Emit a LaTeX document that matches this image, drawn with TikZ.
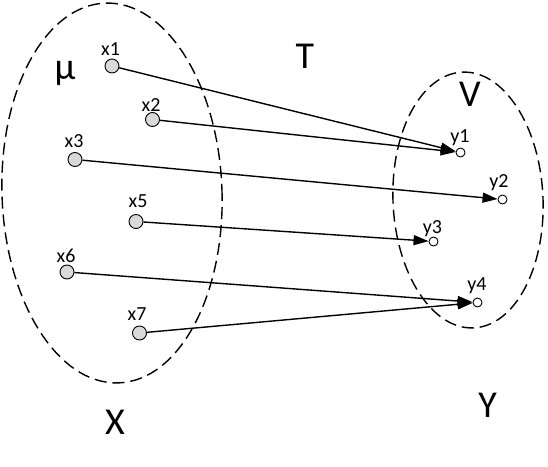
\documentclass[tikz,border=0pt]{standalone}
\usepackage{fontspec}
\setmainfont{Carlito}
\usetikzlibrary{arrows.meta}
\begin{document}
\begin{tikzpicture}[x=1pt,y=-1pt,
  xdot/.style={circle,draw,fill=gray!30,line width=0.9pt,minimum size=14pt,inner sep=0pt},
  ydot/.style={circle,draw,fill=white,line width=0.9pt,minimum size=9pt,inner sep=0pt},
  lbl/.style={font=\fontsize{20}{20}\selectfont,anchor=base,inner sep=0pt},
  big/.style={font=\fontsize{38}{38}\selectfont,anchor=base,inner sep=0pt},
  set/.style={dash pattern=on 12pt off 6pt,line width=1.4pt},
  map/.style={line width=1.4pt,-{Triangle[length=15pt,width=10pt]}}]
\useasboundingbox (0,0) rectangle (548,466);
\draw[set,rotate around={2:(112,193)}] (112,193) ellipse [x radius=110, y radius=190];
\draw[set,rotate around={2.5:(468,200)}] (468,200) ellipse [x radius=75, y radius=128];
\node[xdot] (x1) at (112,66) {};
\node[xdot] (x2) at (152.5,119.5) {};
\node[xdot] (x3) at (75,159.5) {};
\node[xdot] (x5) at (136,221.5) {};
\node[xdot] (x6) at (67,272) {};
\node[xdot] (x7) at (139.5,333) {};
\node[ydot] (y1) at (460.5,152.5) {};
\node[ydot] (y2) at (502.5,199.5) {};
\node[ydot] (y3) at (433.5,241.5) {};
\node[ydot] (y4) at (477.5,302.5) {};
\node[lbl] (lx1) at (110.5,55.5) {x1};
\node[lbl] (lx2) at (151,111) {x2};
\node[lbl] (lx3) at (74,147) {x3};
\node[lbl] (lx5) at (138,207) {x5};
\node[lbl] (lx6) at (66,262) {x6};
\node[lbl] (lx7) at (137,320) {x7};
\node[lbl] (ly1) at (460,142.5) {y1};
\node[lbl] (ly2) at (499,187) {y2};
\node[lbl] (ly3) at (432.5,233.5) {y3};
\node[lbl] (ly4) at (477,290) {y4};
\node[big] (mu) at (65,79) {μ};
\node[big] (T) at (305,68) {T};
\node[big] (V) at (470,106.5) {V};
\node[big] (X) at (115,434) {X};
\node[big] (Y) at (487.5,417) {Y};
\draw[map] (x1) -- (y1);
\draw[map] (x2) -- (y1);
\draw[map] (x3) -- (y2);
\draw[map] (x5) -- (y3);
\draw[map] (x6) -- (y4);
\draw[map] (x7) -- (y4);
\end{tikzpicture}
\end{document}
